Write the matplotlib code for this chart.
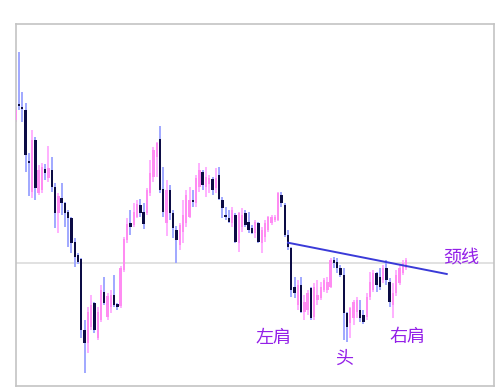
import matplotlib
matplotlib.use("Agg")
import matplotlib.pyplot as plt
import numpy as np

plt.rcParams['font.family'] = ['Noto Sans CJK SC', 'DejaVu Sans']

# OHLC data (price units)
opens = [280, 296, 293, 290, 239, 208, 260, 207, 210, 231, 222, 230, 213, 187, 202, 197, 188, 182, 158, 145,
         141, 70, 57, 73, 97, 62, 80, 108, 83, 93, 105, 96, 94, 130, 160, 177, 175, 183, 195, 188,
         187, 207, 223, 243, 261, 211, 177, 210, 187, 170, 155, 168, 177, 183, 200, 197, 213, 228, 213, 216,
         221, 212, 225, 200, 185, 182, 177, 185, 157, 173, 187, 178, 172, 167, 177, 157, 163, 170, 177, 180,
         180, 205, 195, 165, 152, 113, 95, 115, 88, 90, 112, 83, 100, 102, 110, 110, 113, 140, 138, 132,
         125, 87, 77, 82, 88, 90, 85, 83, 103, 110, 127, 123, 120, 132, 118, 95, 107, 117, 127, 132]
highs = [293, 348, 308, 297, 247, 270, 263, 235, 237, 236, 254, 243, 217, 207, 217, 198, 190, 183, 162, 147,
         142, 80, 93, 105, 98, 93, 115, 123, 107, 110, 125, 97, 134, 163, 182, 190, 197, 200, 201, 197,
         212, 240, 253, 258, 274, 233, 220, 215, 190, 174, 177, 200, 210, 213, 210, 225, 237, 230, 233, 225,
         223, 232, 233, 203, 193, 190, 193, 187, 188, 192, 190, 188, 175, 180, 178, 173, 180, 184, 185, 185,
         208, 208, 197, 170, 153, 123, 120, 123, 105, 110, 113, 117, 120, 118, 122, 123, 142, 143, 142, 135,
         132, 88, 93, 100, 103, 100, 90, 107, 128, 130, 128, 132, 135, 140, 122, 117, 130, 135, 140, 142]
lows = [278, 290, 278, 228, 204, 202, 200, 205, 207, 220, 218, 208, 172, 167, 185, 173, 153, 147, 133, 136,
        62, 27, 47, 70, 67, 60, 78, 95, 80, 87, 93, 90, 92, 128, 157, 165, 173, 182, 183, 171,
        185, 204, 218, 223, 207, 183, 164, 180, 162, 137, 150, 157, 173, 182, 193, 193, 208, 210, 203, 207,
        205, 207, 200, 182, 180, 177, 173, 157, 148, 168, 173, 167, 166, 162, 157, 147, 158, 168, 175, 178,
        179, 193, 163, 150, 103, 102, 90, 87, 80, 85, 80, 80, 95, 100, 108, 107, 112, 132, 127, 123,
        60, 58, 62, 75, 82, 78, 76, 80, 100, 108, 108, 110, 117, 115, 93, 82, 104, 115, 125, 130]
closes = [290, 294, 291, 245, 237, 260, 212, 230, 233, 227, 232, 213, 187, 204, 197, 187, 182, 157, 143, 138,
          70, 57, 88, 95, 70, 88, 110, 97, 104, 105, 95, 93, 132, 161, 176, 173, 188, 196, 187, 176,
          210, 227, 250, 257, 210, 188, 210, 187, 172, 160, 175, 185, 205, 200, 198, 222, 230, 215, 223, 222,
          210, 222, 201, 192, 183, 178, 190, 158, 187, 185, 175, 170, 167, 178, 158, 170, 177, 183, 183, 183,
          207, 197, 165, 153, 110, 107, 115, 88, 98, 107, 82, 113, 105, 113, 120, 118, 140, 137, 132, 125,
          87, 73, 92, 98, 100, 82, 78, 103, 118, 127, 115, 113, 132, 120, 98, 107, 125, 132, 137, 140]

# reference level and neckline
ref_level = 137.5
neck_x = [83, 131.4]
neck_y = [157.3, 126]

labels = ["左肩", "头", "右肩", "颈线"]
label_x = [78.5, 100.1, 119.3, 136.0]
label_y = [62, 41, 63, 143]

W, H = 503, 392
fig = plt.figure(figsize=(W / 100, H / 100), dpi=100)
fig.patch.set_facecolor('white')
ax = fig.add_axes([16 / W, (392 - 386) / H, (494 - 16) / W, (386 - 24) / H])
ax.set_facecolor('white')

up_body = '#ff8cf2'
up_wick = '#ffb0ff'
dn_body = '#0c0c45'
dn_wick = '#a0a8ff'

x = np.arange(len(opens))
for i in range(len(opens)):
    o, h, l, c = opens[i], highs[i], lows[i], closes[i]
    up = c >= o
    ax.vlines(x[i], l, h, color=up_wick if up else dn_wick, linewidth=1.4, zorder=2)
    bottom = min(o, c)
    height = max(abs(c - o), 2.0)
    ax.bar(x[i], height, bottom=bottom, width=0.72,
           color=up_body if up else dn_body, linewidth=0, zorder=3)

ax.axhline(ref_level, color='#dcdcdc', linewidth=1.2, zorder=1)
ax.plot(neck_x, neck_y, color='#3a3ad8', linewidth=1.4, zorder=4)

for t, lx, ly in zip(labels, label_x, label_y):
    ax.text(lx, ly, t, color='#9420e8', fontsize=13, ha='center', va='center',
            fontweight='medium', zorder=5)

ax.set_xlim(0.1, 145.8)
ax.set_ylim(14, 376)
ax.set_xticks([])
ax.set_yticks([])
for s in ax.spines.values():
    s.set_color('#c4c4c4')
    s.set_linewidth(1.2)

fig.savefig('out.png', dpi=100, facecolor='white')
